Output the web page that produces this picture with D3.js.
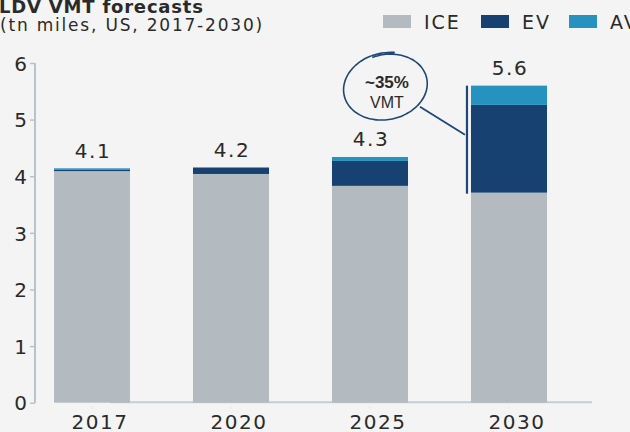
<!DOCTYPE html>
<html>
<head>
<meta charset="utf-8">
<script src="https://cdn.jsdelivr.net/npm/d3@7"></script>
<style>
  html, body { margin: 0; padding: 0; background: #f4f4f4; }
  svg { display: block; }
  text { font-family: "DejaVu Sans", Verdana, sans-serif; fill: #2a2a2a; }
</style>
</head>
<body>
<div class="canvas"></div>
<script>
// chart data
//---------------------------
const years = ['2017', '2020', '2025', '2030'];
const iceValues = [4.09, 4.04, 3.83, 3.71];
const evValues = [0.03, 0.11, 0.44, 1.55];
const avValues = [0.02, 0.01, 0.07, 0.34];
const totalLabels = ['4.1', '4.2', '4.3', '5.6'];
const seriesNames = ['ICE', 'EV', 'AV'];
const yTicks = [0, 1, 2, 3, 4, 5, 6];
//---------------------------

const colors = { ICE: '#b3bbc1', EV: '#164170', AV: '#2592bf' };

const width = 630, height = 432;

const svg = d3.select('.canvas').append('svg')
    .attr('width', width)
    .attr('height', height);

//scales
const y = d3.scaleLinear()
    .domain([0, 6])
    .range([402.7, 63]);

const x = d3.scaleBand()
    .domain(years)
    .range([22.5, 578.5])
    .paddingInner(0.453)
    .paddingOuter(0.2266);

//build rows for stacking
const rows = years.map((yr, i) => ({
    year: yr,
    ICE: iceValues[i],
    EV: evValues[i],
    AV: avValues[i],
    label: totalLabels[i]
}));

const stack = d3.stack().keys(seriesNames)(rows);

//x baseline (starts right of the first bar, like the original)
svg.append('line')
    .attr('x1', 110).attr('x2', 592)
    .attr('y1', y(0) - 0.5).attr('y2', y(0) - 0.5)
    .attr('stroke', '#c5ced3')
    .attr('stroke-width', 2);

//bars
svg.append('g').selectAll('g')
    .data(stack)
    .join('g')
    .attr('fill', d => colors[d.key])
    .selectAll('rect')
    .data(d => d)
    .join('rect')
    .attr('x', d => x(d.data.year))
    .attr('y', d => y(d[1]))
    .attr('width', x.bandwidth())
    .attr('height', d => y(d[0]) - y(d[1]));

//y axis
const yAxis = d3.axisLeft(y)
    .tickValues(yTicks)
    .tickFormat(d3.format('d'))
    .tickSize(5)
    .tickPadding(3);

const yAxisGroup = svg.append('g')
    .attr('transform', 'translate(35,0)')
    .call(yAxis);
yAxisGroup.select('.domain')
    .attr('stroke', '#b8c3c9')
    .attr('stroke-width', 2)
    .attr('d', `M0,${y(6)}V${y(0)}`);
yAxisGroup.selectAll('.tick line').attr('stroke', '#b8c3c9').attr('stroke-width', 1.5);
yAxisGroup.selectAll('.tick text')
    .style('font-size', '20px')
    .attr('fill', '#222')
    .attr('dy', '0.36em');

//x axis
const xAxis = d3.axisBottom(x)
    .tickSize(2)
    .tickPadding(7);

const xAxisGroup = svg.append('g')
    .attr('transform', `translate(0,${y(0) + 4})`)
    .call(xAxis);
xAxisGroup.select('.domain').remove();
xAxisGroup.selectAll('.tick line').attr('stroke', '#e0e4e6');
xAxisGroup.selectAll('.tick text')
    .style('font-size', '20px')
    .style('letter-spacing', '1.5px')
    .attr('fill', '#222')
    .attr('dx', 8)
    .attr('dy', '0.66em');

//total labels above bars
svg.append('g').selectAll('text')
    .data(rows)
    .join('text')
    .attr('x', d => x(d.year) + x.bandwidth() / 2 + 1)
    .attr('y', d => y(d.ICE + d.EV + d.AV) - 10.5)
    .attr('text-anchor', 'middle')
    .style('font-size', '20px')
    .style('letter-spacing', '1.5px')
    .text(d => d.label);

//title
svg.append('text')
    .attr('x', -1).attr('y', 12.5)
    .style('font-size', '18px')
    .style('font-weight', 'bold')
    .style('letter-spacing', '0.8px')
    .text('LDV VMT forecasts');
svg.append('text')
    .attr('x', 0).attr('y', 31)
    .style('font-size', '17px')
    .style('letter-spacing', '1.8px')
    .text('(tn miles, US, 2017-2030)');

//legend
const legendX = [383, 481, 569];
const legend = svg.append('g').selectAll('g')
    .data(seriesNames)
    .join('g')
    .attr('transform', (d, i) => `translate(${legendX[i]},15)`);
legend.append('rect')
    .attr('width', 28).attr('height', 13)
    .attr('fill', d => colors[d]);
legend.append('text')
    .attr('x', 41).attr('y', 14)
    .style('font-size', '19px')
    .style('letter-spacing', '2px')
    .text(d => d);

//annotation for 2030 (EV + AV share)
const last = rows[rows.length - 1];
const bx = x(last.year) - 4;
const topY = y(last.ICE + last.EV + last.AV);
const iceY = y(last.ICE);

const ann = svg.append('g');
ann.append('line')
    .attr('x1', bx).attr('x2', bx)
    .attr('y1', topY).attr('y2', iceY + 1)
    .attr('stroke', '#1d4775')
    .attr('stroke-width', 2.2);

ann.append('line')
    .attr('x1', bx - 47).attr('y1', topY + 21)
    .attr('x2', bx - 2).attr('y2', topY + 49)
    .attr('stroke', '#1d4775')
    .attr('stroke-width', 1.8);

//hand drawn looking loop
const cx = bx - 81, cy = topY + 1;
const loop = [];
const rot = -12 * Math.PI / 180;
for (let k = 0; k <= 80; k++) {
    const t = -1.75 + k / 80 * (2 * Math.PI + 0.55);
    const grow = 1 + 0.06 * (k / 80);
    const ex = 41 * grow * Math.cos(t);
    const ey = 32 * grow * Math.sin(t);
    loop.push([cx + ex * Math.cos(rot) - ey * Math.sin(rot),
               cy + ex * Math.sin(rot) + ey * Math.cos(rot)]);
}
ann.append('path')
    .attr('d', d3.line().curve(d3.curveBasis)(loop))
    .attr('fill', 'none')
    .attr('stroke', '#1d4775')
    .attr('stroke-width', 1.6);

ann.append('text')
    .attr('x', cx + 1).attr('y', cy + 1)
    .attr('text-anchor', 'middle')
    .style('font-family', '"Liberation Sans", Arial, sans-serif')
    .style('font-size', '17px')
    .style('font-weight', 'bold')
    .text('~35%');
ann.append('text')
    .attr('x', cx + 1).attr('y', cy + 21)
    .attr('text-anchor', 'middle')
    .style('font-family', '"Liberation Sans", Arial, sans-serif')
    .style('font-size', '16px')
    .text('VMT');
</script>
</body>
</html>
